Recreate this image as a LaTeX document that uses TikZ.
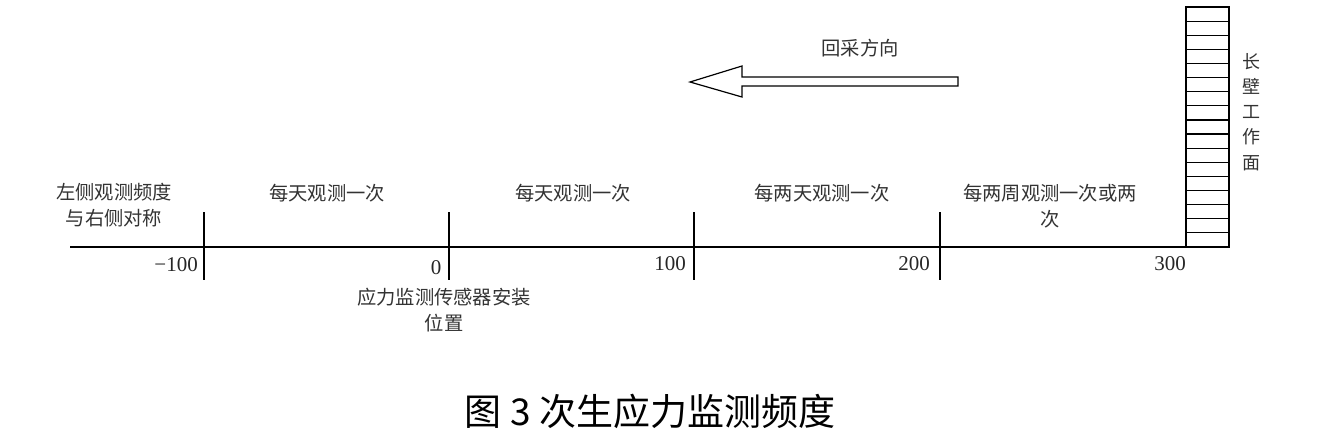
\documentclass[tikz,border=0pt]{standalone}
\usepackage{fontspec}
\setmainfont{Liberation Serif}
\newfontfamily\cjk{Noto Sans CJK SC}
\begin{document}
\begin{tikzpicture}[x=1pt,y=-1pt,
  ln/.style={line width=1.2pt, black},
  lbl/.style={font=\cjk\fontsize{19.3}{25.5}\selectfont, inner sep=0pt, text=black!80, align=center},
  num/.style={font=\fontsize{21}{24}\selectfont, inner sep=0pt, text=black!85},
  captext/.style={font=\cjk\fontsize{37}{44}\selectfont, inner sep=0pt}]
\useasboundingbox (0,0) rectangle (1333,437);
% axis
\coordinate (axL) at (70,247);
\coordinate (axR) at (1229,247);
\draw[ln] (axL) -- (axR);
% ticks
\foreach \x/\n in {204/a,449/b,694/c,940/d}{
  \coordinate (t\n1) at (\x,212);
  \coordinate (t\n2) at (\x,280);
  \draw[ln] (t\n1) -- (t\n2);
}
% longwall block
\draw[ln] (1186,7) rectangle (1229,247);
\foreach \i in {1,...,16}{
  \pgfmathsetmacro{\yy}{7+\i*14.1176}
  \draw[ln] (1186,\yy) -- (1229,\yy);
}
% mining direction arrow
\draw[ln] (958,77) -- (742,77) -- (742,66) -- (690,82) -- (742,97) -- (742,86) -- (958,86) -- cycle;
\node[lbl] (dir) at (860,48) {回采方向};
% vertical label
\node[lbl, font=\cjk\fontsize{18}{25.2}\selectfont] (lw) at (1251,112) {长\\壁\\工\\作\\面};
% segment labels
\node[lbl] (left) at (114,205) {左侧观测频度\\与右侧对称};
\node[lbl] (s1) at (327,193) {每天观测一次};
\node[lbl] (s2) at (573,193) {每天观测一次};
\node[lbl] (s3) at (822,193) {每两天观测一次};
\node[lbl] (s4) at (1050,206) {每两周观测一次或两\\次};
\node[lbl] (sensor) at (444,310) {应力监测传感器安装\\位置};
% numbers
\node[num, anchor=east] (n1) at (198,265) {−100};
\node[num] (n2) at (436,268) {0};
\node[num] (n3) at (670,264) {100};
\node[num] (n4) at (914,264) {200};
\node[num] (n5) at (1170,264) {300};
% caption
\node[captext] (caption) at (650,411) {图 3 次生应力监测频度};
\end{tikzpicture}
\end{document}
